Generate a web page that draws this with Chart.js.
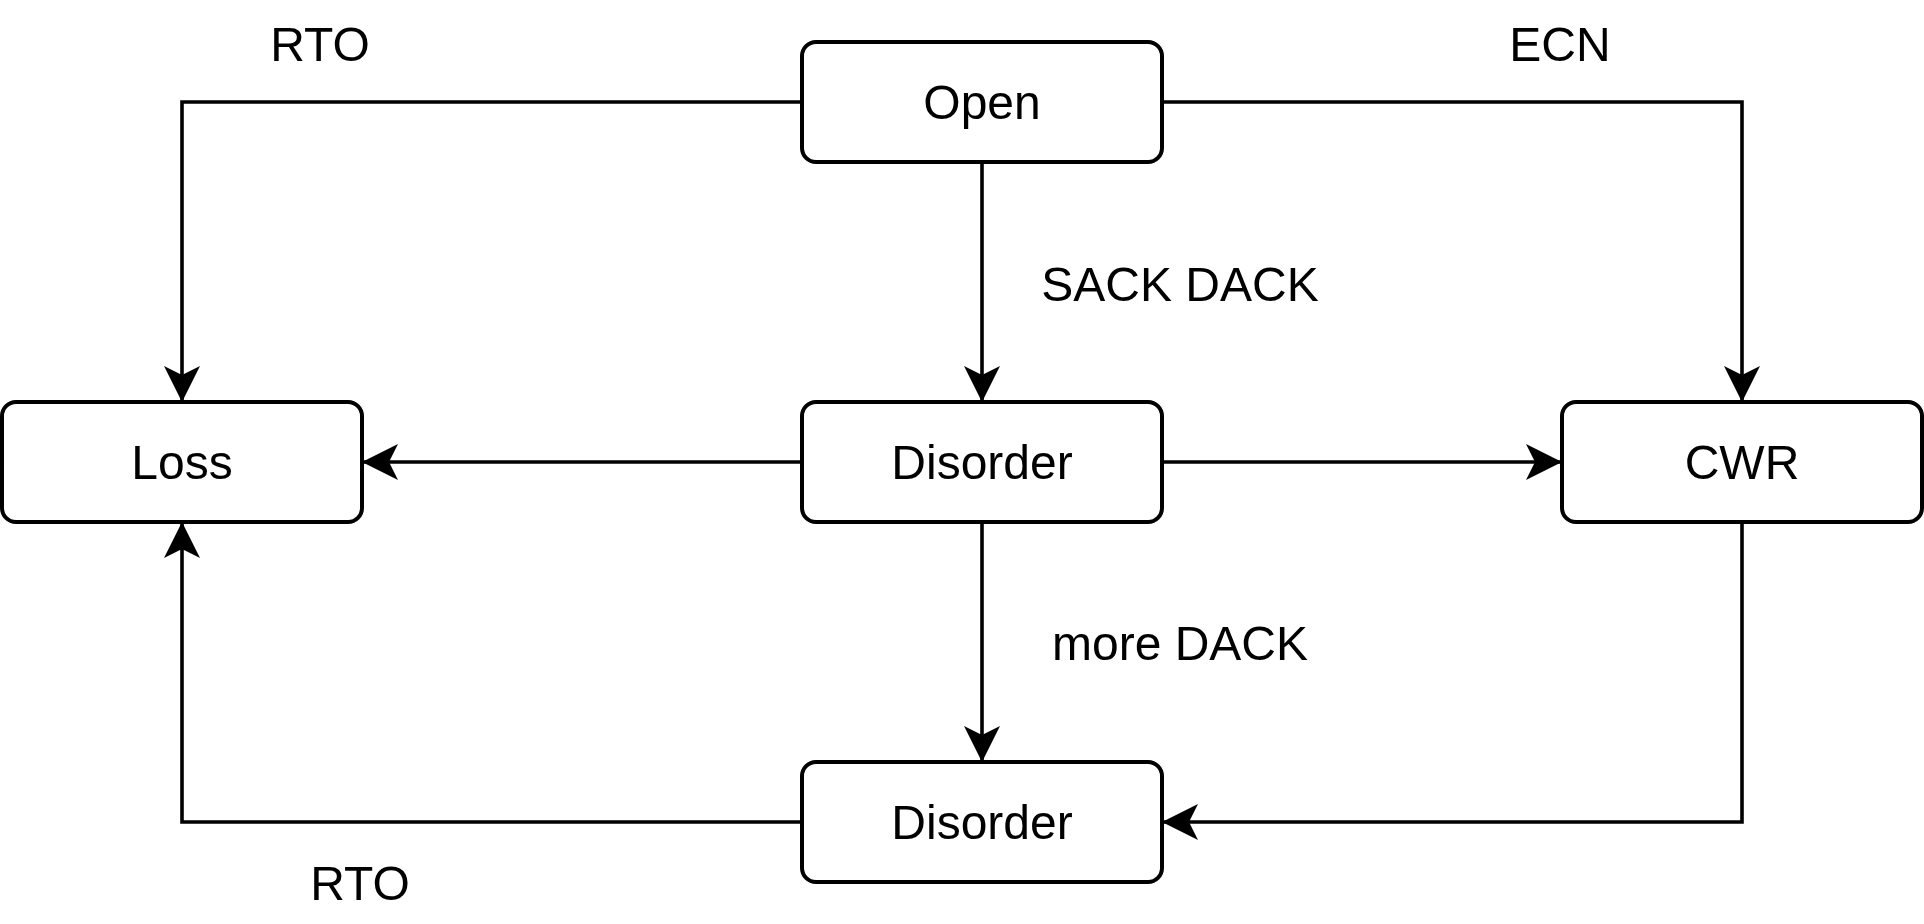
<!DOCTYPE html>
<html>
<head>
<meta charset="utf-8">
<script src="https://cdn.jsdelivr.net/npm/chart.js@4/dist/chart.umd.min.js"></script>
<style>
  html, body { margin: 0; padding: 0; background: #ffffff; overflow: hidden; }
  #wrap { position: relative; width: 1924px; height: 924px; background: #ffffff; }
</style>
</head>
<body>
<div id="wrap"><canvas id="c"></canvas></div>
<script>
// ---- diagram data ----
const nodeLabels = ['Open', 'Loss', 'Disorder', 'CWR', 'Disorder'];
const nodeX = [982, 182, 982, 1742, 982];
const nodeY = [102, 462, 462, 462, 822];

const edgeFrom  = [0, 0, 0, 2, 2, 2, 3, 4];
const edgeTo    = [1, 2, 3, 1, 3, 4, 4, 1];
const edgeRoute = ['hv', 'v', 'hv', 'h', 'h', 'v', 'vh', 'hv'];

const labelTexts = ['RTO', 'ECN', 'SACK DACK', 'more DACK', 'RTO'];
const labelX = [320, 1560, 1180, 1180, 360];
const labelY = [43.5, 43.5, 283.5, 642.5, 882.5];

// ---- layout / style constants ----
const BOX_W = 360, BOX_H = 120;
const FONT_SIZE = 48;
const FONT = FONT_SIZE + 'px "Liberation Sans", Arial, Helvetica, sans-serif';
const CAP = 0.716 * FONT_SIZE;

function edgePoints(i) {
  const s = edgeFrom[i], t = edgeTo[i];
  const sx = nodeX[s], sy = nodeY[s], tx = nodeX[t], ty = nodeY[t];
  const hw = BOX_W / 2, hh = BOX_H / 2;
  const dirX = Math.sign(tx - sx), dirY = Math.sign(ty - sy);
  switch (edgeRoute[i]) {
    case 'h':
      return [{x: sx + dirX * hw, y: sy}, {x: tx - dirX * hw, y: ty}];
    case 'v':
      return [{x: sx, y: sy + dirY * hh}, {x: tx, y: ty - dirY * hh}];
    case 'hv':
      return [{x: sx + dirX * hw, y: sy}, {x: tx, y: sy}, {x: tx, y: ty - dirY * hh}];
    case 'vh':
      return [{x: sx, y: sy + dirY * hh}, {x: sx, y: ty}, {x: tx - dirX * hw, y: ty}];
  }
}

const datasets = edgeFrom.map((_, i) => ({
  data: edgePoints(i),
  showLine: true,
  borderColor: '#000000',
  borderWidth: 3.6,
  pointRadius: 0,
  pointHoverRadius: 0,
  tension: 0,
  fill: false,
  borderJoinStyle: 'miter',
  borderCapStyle: 'butt'
}));

const flowPlugin = {
  id: 'flow',
  beforeDraw(chart) {
    const ctx = chart.ctx;
    ctx.save();
    ctx.fillStyle = '#ffffff';
    ctx.fillRect(0, 0, chart.width, chart.height);
    ctx.restore();
  },
  afterDatasetsDraw(chart) {
    const ctx = chart.ctx;
    const xs = chart.scales.x, ys = chart.scales.y;
    ctx.save();
    // arrowheads
    chart.data.datasets.forEach((ds, i) => {
      const pts = chart.getDatasetMeta(i).data;
      const a = pts[pts.length - 2], b = pts[pts.length - 1];
      const dx = b.x - a.x, dy = b.y - a.y;
      const len = Math.hypot(dx, dy);
      const ux = dx / len, uy = dy / len;
      const L = 36, W = 18;
      ctx.beginPath();
      ctx.moveTo(b.x, b.y);
      ctx.lineTo(b.x - ux * L - uy * W, b.y - uy * L + ux * W);
      ctx.lineTo(b.x - ux * L * 0.75, b.y - uy * L * 0.75);
      ctx.lineTo(b.x - ux * L + uy * W, b.y - uy * L - ux * W);
      ctx.closePath();
      ctx.fillStyle = '#000000';
      ctx.fill();
    });
    // boxes
    nodeLabels.forEach((lab, i) => {
      const x0 = xs.getPixelForValue(nodeX[i] - BOX_W / 2);
      const x1 = xs.getPixelForValue(nodeX[i] + BOX_W / 2);
      const y0 = ys.getPixelForValue(nodeY[i] - BOX_H / 2);
      const y1 = ys.getPixelForValue(nodeY[i] + BOX_H / 2);
      const left = Math.min(x0, x1), top = Math.min(y0, y1);
      const w = Math.abs(x1 - x0), h = Math.abs(y1 - y0);
      ctx.beginPath();
      ctx.roundRect(left, top, w, h, 14);
      ctx.fillStyle = '#ffffff';
      ctx.fill();
      ctx.lineWidth = 4;
      ctx.strokeStyle = '#000000';
      ctx.stroke();
      ctx.fillStyle = '#000000';
      ctx.font = FONT;
      ctx.textAlign = 'center';
      ctx.textBaseline = 'alphabetic';
      ctx.fillText(lab, xs.getPixelForValue(nodeX[i]), ys.getPixelForValue(nodeY[i]) + CAP / 2);
    });
    // edge labels
    labelTexts.forEach((t, i) => {
      ctx.fillStyle = '#000000';
      ctx.font = FONT;
      ctx.textAlign = 'center';
      ctx.textBaseline = 'alphabetic';
      ctx.fillText(t, xs.getPixelForValue(labelX[i]), ys.getPixelForValue(labelY[i]) + CAP / 2);
    });
    ctx.restore();
  }
};

new Chart(document.getElementById('c'), {
  type: 'scatter',
  data: { datasets },
  options: {
    responsive: true,
    maintainAspectRatio: false,
    animation: false,
    events: [],
    layout: { padding: 0 },
    plugins: { legend: { display: false }, tooltip: { enabled: false } },
    scales: {
      x: { type: 'linear', min: 0, max: 1924, display: false },
      y: { type: 'linear', min: 0, max: 924, reverse: true, display: false }
    }
  },
  plugins: [flowPlugin]
});
</script>
</body>
</html>
